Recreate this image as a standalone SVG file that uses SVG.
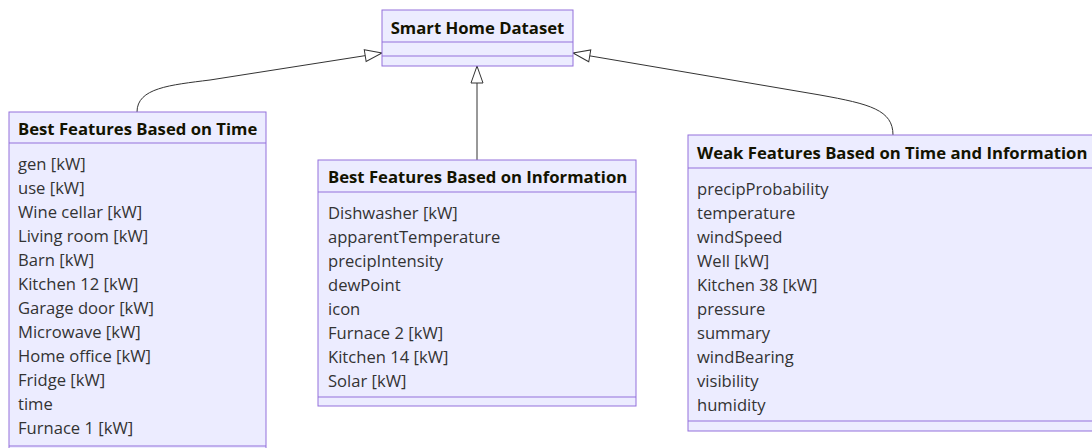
<svg xmlns="http://www.w3.org/2000/svg" width="1092" height="448" viewBox="0 0 1092 448">
<style>
.box{fill:#ECECFF;stroke:#9370DB;stroke-width:1}
.div{stroke:#9370DB;stroke-width:1}
.title{font-family:"Open Sans","Noto Sans",sans-serif;font-size:16.7px;font-weight:bold;fill:#131300;dominant-baseline:central}
.item{font-family:"Open Sans","Noto Sans",sans-serif;font-size:16.6px;fill:#333333;dominant-baseline:central}
.edge{fill:none;stroke:#333333;stroke-width:1}
</style>
<defs>
<marker id="ext" markerUnits="userSpaceOnUse" markerWidth="20" markerHeight="14" refX="18" refY="7" orient="auto">
<path d="M1,1 L18,7 L1,13 Z" fill="#ffffff" stroke="#333333" stroke-width="1"/>
</marker>
</defs>
<rect width="1092" height="448" fill="#ffffff"/>
<g id="connectors">
<path class="edge" d="M137,112 C137,88 170,85 210,80 L382,53" marker-end="url(#ext)"/>
<path class="edge" d="M477,160 L477,66" marker-end="url(#ext)"/>
<path class="edge" d="M893,135 C893,110 870,104 820,95 L573,53" marker-end="url(#ext)"/>
</g>
<g id="smart-home-dataset">
<rect class="box" x="382" y="10" width="191" height="56"/>
<line class="div" x1="382" y1="42" x2="573" y2="42"/>
<line class="div" x1="382" y1="56" x2="573" y2="56"/>
<text class="title" x="477.5" y="27" text-anchor="middle">Smart Home Dataset</text>
</g>
<g id="best-time">
<rect class="box" x="9" y="112" width="257" height="344"/>
<line class="div" x1="9" y1="143" x2="266" y2="143"/>
<line class="div" x1="9" y1="446" x2="266" y2="446"/>
<text class="title" x="18" y="128">Best Features Based on Time</text>
<text class="item" x="18" y="163">gen [kW]</text>
<text class="item" x="18" y="187">use [kW]</text>
<text class="item" x="18" y="211">Wine cellar [kW]</text>
<text class="item" x="18" y="235">Living room [kW]</text>
<text class="item" x="18" y="259">Barn [kW]</text>
<text class="item" x="18" y="283">Kitchen 12 [kW]</text>
<text class="item" x="18" y="307">Garage door [kW]</text>
<text class="item" x="18" y="331">Microwave [kW]</text>
<text class="item" x="18" y="355">Home office [kW]</text>
<text class="item" x="18" y="379">Fridge [kW]</text>
<text class="item" x="18" y="403">time</text>
<text class="item" x="18" y="427">Furnace 1 [kW]</text>
</g>
<g id="best-information">
<rect class="box" x="318" y="160" width="318" height="246"/>
<line class="div" x1="318" y1="192" x2="636" y2="192"/>
<line class="div" x1="318" y1="397" x2="636" y2="397"/>
<text class="title" x="328" y="176">Best Features Based on Information</text>
<text class="item" x="328" y="212">Dishwasher [kW]</text>
<text class="item" x="328" y="236">apparentTemperature</text>
<text class="item" x="328" y="260">precipIntensity</text>
<text class="item" x="328" y="284">dewPoint</text>
<text class="item" x="328" y="308">icon</text>
<text class="item" x="328" y="332">Furnace 2 [kW]</text>
<text class="item" x="328" y="356">Kitchen 14 [kW]</text>
<text class="item" x="328" y="380">Solar [kW]</text>
</g>
<g id="weak-time-information">
<rect class="box" x="688" y="135" width="416" height="296"/>
<line class="div" x1="688" y1="168" x2="1104" y2="168"/>
<line class="div" x1="688" y1="421" x2="1104" y2="421"/>
<text class="title" x="697" y="152">Weak Features Based on Time and Information</text>
<text class="item" x="697" y="188">precipProbability</text>
<text class="item" x="697" y="212">temperature</text>
<text class="item" x="697" y="236">windSpeed</text>
<text class="item" x="697" y="260">Well [kW]</text>
<text class="item" x="697" y="284">Kitchen 38 [kW]</text>
<text class="item" x="697" y="308">pressure</text>
<text class="item" x="697" y="332">summary</text>
<text class="item" x="697" y="356">windBearing</text>
<text class="item" x="697" y="380">visibility</text>
<text class="item" x="697" y="404">humidity</text>
</g>
</svg>
